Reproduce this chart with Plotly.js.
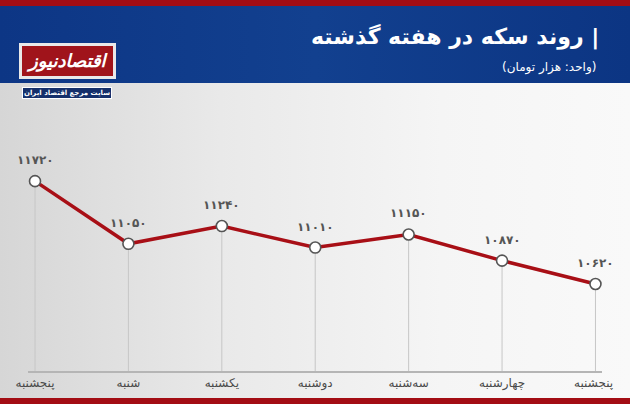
<!DOCTYPE html>
<html>
<head>
<meta charset="utf-8">
<script src="https://cdn.plot.ly/plotly-3.0.1.min.js"></script>
<style>
  html, body { margin:0; padding:0; width:630px; height:404px; overflow:hidden; }
  #bg { position:absolute; left:0; top:0; width:630px; height:404px;
        background: linear-gradient(90deg, #d6d6d6 0%, #e9e9e9 35%, #f5f5f5 70%, #f9f9f9 100%); }
  #topred { position:absolute; left:0; top:0; width:630px; height:6px; background:#a30d14; }
  #header { position:absolute; left:0; top:6px; width:630px; height:77px;
            background: linear-gradient(90deg, #0d3685 0%, #12408f 50%, #0c3583 100%); }
  #botred { position:absolute; left:0; top:398px; width:630px; height:6px; background:#a30d14; }
  #chart { position:absolute; left:0; top:0; width:630px; height:404px; }
</style>
</head>
<body>
<div id="bg"></div>
<div id="topred"></div>
<div id="header"></div>
<div id="botred"></div>
<div id="chart"></div>
<script>
// Data
const days = ["پنجشنبه", "شنبه", "یکشنبه", "دوشنبه", "سه‌شنبه", "چهارشنبه", "پنجشنبه "];
const prices = [11720, 11050, 11240, 11010, 11150, 10870, 10620];
const titleText = "روند سکه در هفته گذشته |";
const subtitleText = "(واحد: هزار تومان)";
const logoText = "اقتصادنیوز";
const logoSub = "سایت مرجع اقتصاد ایران";

const yMin = 9690, yMax = 12588;
const faDigits = "۰۱۲۳۴۵۶۷۸۹";
const toFa = n => String(n).replace(/\d/g, d => faDigits[+d]);
const idx = days.map((d, i) => i);

const trace = {
  type: "scatter", mode: "lines+markers",
  x: idx, y: prices,
  line: { color: "#a80f16", width: 3.5 },
  marker: { size: 11, color: "#ffffff", line: { color: "#555555", width: 1.6 } },
  error_y: { type: "data", symmetric: false, array: prices.map(() => 0),
             arrayminus: prices.map(v => v - yMin), width: 0, color: "#c6c6c6", thickness: 1 },
  hoverinfo: "skip", cliponaxis: false
};

const W = 630, H = 404, ml = 28, mr = 28, mt = 100, mb = 33;
const pw = W - ml - mr, ph = H - mt - mb;
const px = x => (x - ml) / pw;
const py = y => (H - mb - y) / ph;

const annotations = prices.map((v, i) => ({
  x: i, y: v, xref: "x", yref: "y", text: toFa(v), showarrow: false,
  yshift: 21, font: { family: "DejaVu Sans", size: 12, color: "#555555", weight: "bold" }
}));

annotations.push(
  { xref: "paper", yref: "paper", x: px(601), y: py(36), xanchor: "right", yanchor: "middle",
    text: "<b>" + titleText + "</b>", showarrow: false,
    font: { family: "DejaVu Sans", size: 22, color: "#ffffff" } },
  { xref: "paper", yref: "paper", x: px(598), y: py(67), xanchor: "right", yanchor: "middle",
    text: subtitleText, showarrow: false,
    font: { family: "DejaVu Sans", size: 12, color: "#ffffff" } },
  { xref: "paper", yref: "paper", x: px(67), y: py(61), xanchor: "center", yanchor: "middle",
    text: "<b><i>" + logoText + "</i></b>", showarrow: false,
    bgcolor: "#a0141b", bordercolor: "#e9e9e9", borderwidth: 3, borderpad: 4,
    font: { family: "DejaVu Sans", size: 18, color: "#ffffff" } },
  { xref: "paper", yref: "paper", x: px(67), y: py(93), xanchor: "center", yanchor: "middle",
    text: "<b>" + logoSub + "</b>", showarrow: false,
    bgcolor: "#15306b", bordercolor: "#ffffff", borderwidth: 1, borderpad: 1,
    font: { family: "DejaVu Sans", size: 7, color: "#ffffff" } }
);

const layout = {
  width: W, height: H,
  margin: { l: ml, r: mr, t: mt, b: mb },
  paper_bgcolor: "rgba(0,0,0,0)", plot_bgcolor: "rgba(0,0,0,0)",
  showlegend: false,
  xaxis: {
    range: [-0.075, 6.07], tickmode: "array", tickvals: idx, ticktext: days,
    showgrid: false, zeroline: false, showline: true, linecolor: "#b5b5b5", linewidth: 1.5,
    ticks: "", tickfont: { family: "DejaVu Sans", size: 12, color: "#4a4a4a" },
    fixedrange: true
  },
  yaxis: {
    range: [yMin, yMax], visible: false, showgrid: false, zeroline: false, fixedrange: true
  },
  annotations: annotations
};

Plotly.newPlot("chart", [trace], layout, { staticPlot: true, displayModeBar: false });
</script>
</body>
</html>
